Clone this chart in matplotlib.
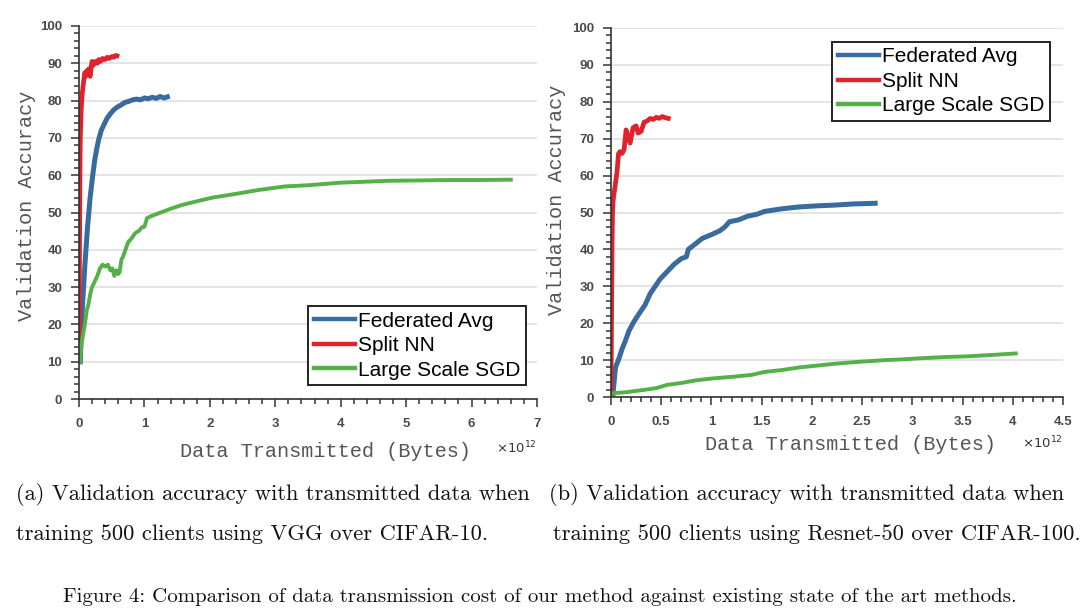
import matplotlib
matplotlib.use('Agg')
import matplotlib.pyplot as plt
from matplotlib.ticker import MultipleLocator

# --- data (x in units of 1e12 bytes) ---
labels = ['Federated Avg', 'Split NN', 'Large Scale SGD']
colors = ['#3a6b9e', '#e0232b', '#55b04a']

# (a) VGG / CIFAR-10
fed_a_x = [0.02, 0.03, 0.05, 0.07, 0.09, 0.11, 0.13, 0.15, 0.17, 0.19, 0.21, 0.24, 0.27, 0.3,
           0.34, 0.38, 0.43, 0.48, 0.53, 0.58, 0.64, 0.7, 0.76, 0.82, 0.88, 0.94, 1.0, 1.06,
           1.12, 1.18, 1.24, 1.3, 1.35]
fed_a_y = [10, 16, 24, 30, 36, 41, 46, 50, 54, 57, 60, 64, 67, 69.5, 72, 73.5, 75.3, 76.5,
           77.5, 78.2, 78.8, 79.5, 79.8, 80.2, 80.4, 80.2, 80.7, 80.5, 80.9, 80.6, 81.1, 80.7, 81]
split_a_x = [0, 0.005, 0.01, 0.015, 0.02, 0.035, 0.05, 0.07, 0.09, 0.1, 0.12, 0.14, 0.15,
             0.17, 0.19, 0.2, 0.22, 0.25, 0.28, 0.3, 0.33, 0.36, 0.4, 0.43, 0.46, 0.5, 0.53,
             0.56, 0.58]
split_a_y = [10, 30, 48, 62, 70, 78, 82, 85, 87.5, 86.5, 88, 87.5, 88.5, 86.5, 89.5, 90.5,
             89.5, 90.5, 90, 91, 90.5, 91.3, 91, 91.6, 91.3, 91.8, 91.6, 92.1, 92]
sgd_a_x = [0.015, 0.04, 0.07, 0.09, 0.12, 0.14, 0.17, 0.2, 0.24, 0.28, 0.32, 0.36, 0.4, 0.44,
           0.48, 0.51, 0.54, 0.57, 0.6, 0.62, 0.65, 0.67, 0.71, 0.75, 0.8, 0.86, 0.91, 0.96,
           1.0, 1.04, 1.1, 1.25, 1.4, 1.57, 1.8, 2.04, 2.4, 2.73, 3.15, 3.5, 4.0, 4.3, 4.73,
           5.2, 5.6, 6.1, 6.6]
sgd_a_y = [9.8, 15, 18, 20, 24, 25, 28, 30, 31.5, 33, 35, 36, 35.5, 36, 34.5, 35, 33, 34.5,
           33.5, 34, 37.5, 38, 40, 42, 43, 44.5, 45, 46, 46.2, 48.5, 49, 50, 51, 52, 53, 54,
           55, 56, 57, 57.3, 58, 58.2, 58.5, 58.6, 58.7, 58.7, 58.8]

# (b) Resnet-50 / CIFAR-100
fed_b_x = [0.02, 0.045, 0.08, 0.11, 0.14, 0.18, 0.23, 0.29, 0.34, 0.39, 0.44, 0.49, 0.56,
           0.63, 0.7, 0.75, 0.77, 0.84, 0.91, 1.0, 1.08, 1.13, 1.18, 1.27, 1.36, 1.45, 1.53,
           1.7, 1.87, 2.05, 2.22, 2.4, 2.63]
fed_b_y = [1, 8, 10.5, 13, 15, 18, 20.5, 23, 25, 28, 30, 32, 34, 36, 37.5, 38, 40, 41.5, 43,
           44, 45, 46, 47.5, 48, 49, 49.5, 50.3, 51, 51.5, 51.8, 52, 52.3, 52.5]
split_b_x = [0, 0.005, 0.01, 0.015, 0.02, 0.03, 0.04, 0.06, 0.075, 0.09, 0.11, 0.13, 0.15,
             0.165, 0.19, 0.22, 0.25, 0.27, 0.3, 0.33, 0.36, 0.39, 0.42, 0.45, 0.48, 0.51,
             0.54, 0.57]
split_b_y = [1, 20, 40, 50, 53, 55, 57, 61, 66, 66.5, 66, 67, 72.4, 71, 68.8, 73, 73.5, 71.5,
             72, 74.5, 74.8, 75.5, 75.2, 75.8, 75.5, 76, 75.7, 75.5]
sgd_b_x = [0, 0.15, 0.32, 0.45, 0.56, 0.7, 0.84, 1.0, 1.22, 1.4, 1.53, 1.7, 1.87, 2.05, 2.22,
           2.45, 2.73, 2.9, 3.08, 3.3, 3.53, 3.8, 4.03]
sgd_b_y = [1, 1.3, 1.9, 2.4, 3.3, 3.8, 4.5, 5, 5.5, 6, 6.8, 7.3, 8, 8.5, 9, 9.5, 10, 10.2,
           10.5, 10.8, 11, 11.4, 11.8]

series_a = [(fed_a_x, fed_a_y), (split_a_x, split_a_y), (sgd_a_x, sgd_a_y)]
series_b = [(fed_b_x, fed_b_y), (split_b_x, split_b_y), (sgd_b_x, sgd_b_y)]

W, H = 1080, 611
fig = plt.figure(figsize=(W / 100, H / 100), dpi=100)

tick_font = dict(family='Liberation Sans', weight='bold', size=9.5)
label_font = dict(family='Liberation Mono', size=14.6, color='#555555')


def setup(ax, series, xmax, xmajor, xminor, legend_loc, legend_anchor):
    widths = [3.6, 3.4, 2.8]
    for (xs, ys), c, lab, lw in zip(series, colors, labels, widths):
        ax.plot(xs, ys, color=c, lw=lw, label=lab, solid_joinstyle='round')
    ax.set_xlim(0, xmax)
    ax.set_ylim(0, 100)
    ax.xaxis.set_major_locator(MultipleLocator(xmajor))
    ax.xaxis.set_minor_locator(MultipleLocator(xminor))
    ax.yaxis.set_major_locator(MultipleLocator(10))
    ax.yaxis.set_minor_locator(MultipleLocator(2))
    ax.set_xticks(ax.get_xticks())
    ax.set_xticklabels(['%g' % t for t in ax.get_xticks()], **tick_font, color='#4a4a4a')
    ax.set_yticks(ax.get_yticks())
    ax.set_yticklabels(['%g' % t for t in ax.get_yticks()], **tick_font, color='#4a4a4a')
    ax.set_xlim(0, xmax)
    ax.set_ylim(0, 100)
    for s in ['top', 'right']:
        ax.spines[s].set_visible(False)
    for s in ['left', 'bottom']:
        ax.spines[s].set_color('#333333')
        ax.spines[s].set_linewidth(1.2)
    ax.tick_params(axis='x', which='major', length=6, width=1.1, color='#333333', pad=8)
    ax.tick_params(axis='y', which='major', length=6, width=1.1, color='#333333', pad=6)
    ax.tick_params(which='minor', length=3.5, width=1.1, color='#333333')
    ax.grid(axis='y', which='major', color='#e2e2e2', lw=1.3)
    ax.set_axisbelow(True)
    ax.set_xlabel('Data Transmitted (Bytes)', **label_font)
    ax.set_ylabel('Validation Accuracy', **label_font)
    leg = ax.legend(loc=legend_loc, bbox_to_anchor=legend_anchor, borderaxespad=0,
                    fancybox=False, framealpha=1, edgecolor='#222222',
                    prop=dict(family='Liberation Sans', size=15),
                    handlelength=2.0, handletextpad=0.15, labelspacing=0.27,
                    borderpad=0.25)
    leg.get_frame().set_linewidth(1.4)
    for line in leg.get_lines():
        line.set_linewidth(3.2)


ax1 = fig.add_axes([79 / W, 1 - 399 / H, 458 / W, 373 / H])
setup(ax1, series_a, 7, 1, 0.2, 'lower right', (1 - 11 / 458, 14 / 373))
ax1.xaxis.set_label_coords(0.538, -0.114)
ax1.yaxis.set_label_coords(-0.093, 0.517)
ax1.text(1.0, -0.131, r'$\times10^{12}$', transform=ax1.transAxes, fontsize=9.5,
         ha='right', va='center', color='#333333')

ax2 = fig.add_axes([611 / W, 1 - 397 / H, 452 / W, 369 / H])
setup(ax2, series_b, 4.5, 0.5, 0.1, 'upper right', (1 - 13 / 452, 1 - 14 / 369))
ax2.xaxis.set_label_coords(0.53, -0.104)
ax2.yaxis.set_label_coords(-0.10, 0.534)
ax2.text(1.0, -0.125, r'$\times10^{12}$', transform=ax2.transAxes, fontsize=9.5,
         ha='right', va='center', color='#333333')

cap = dict(family='cmr10', size=16.2, color='#111111', va='center', ha='left')
fig.text(16 / W, 1 - 494 / H, '(a) Validation accuracy with transmitted data when', **cap)
fig.text(16 / W, 1 - 534 / H, 'training 500 clients using VGG over CIFAR-10.', **cap)
fig.text(549 / W, 1 - 494 / H, '(b) Validation accuracy with transmitted data when', **cap)
fig.text(553 / W, 1 - 534 / H, 'training 500 clients using Resnet-50 over CIFAR-100.', **cap)
fig.text(540 / W, 1 - 597 / H,
         'Figure 4: Comparison of data transmission cost of our method against existing state of the art methods.',
         family='cmr10', size=15, color='#111111', va='center', ha='center')

fig.savefig('out.png', dpi=100)
